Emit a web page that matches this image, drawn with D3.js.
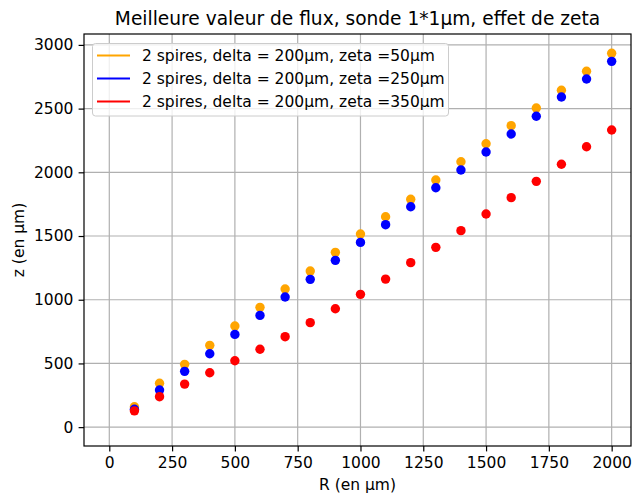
<!DOCTYPE html>
<html><head><meta charset="utf-8">
<script src="https://cdn.jsdelivr.net/npm/d3@7"></script>
<style>body{margin:0;background:#fff}svg{display:block;font-family:"DejaVu Sans",sans-serif}</style>
</head><body><svg id="c" width="632" height="497"></svg>
<script>
const R = [100,200,300,400,500,600,700,800,900,1000,1100,1200,1300,1400,1500,1600,1700,1800,1900,2000];
const zeta50  = [160,344,493,642,794,940,1084,1225,1372,1516,1651,1788,1940,2083,2224,2366,2505,2644,2793,2934];
const zeta250 = [140,291,438,576,728,877,1021,1160,1309,1450,1589,1730,1879,2018,2159,2301,2440,2591,2732,2871];
const zeta350 = [128,239,338,427,521,611,710,820,929,1042,1162,1291,1411,1542,1673,1801,1929,2063,2201,2332];
const seriesNames = ["2 spires, delta = 200µm, zeta =50µm","2 spires, delta = 200µm, zeta =250µm","2 spires, delta = 200µm, zeta =350µm"];
const seriesColors = ["orange","blue","red"];
const xTicks = [0,250,500,750,1000,1250,1500,1750,2000];
const yTicks = [0,500,1000,1500,2000,2500,3000];
const title = "Meilleure valeur de flux, sonde 1*1µm, effet de zeta";
const xLabel = "R (en µm)", yLabel = "z (en µm)";

const series = [zeta50, zeta250, zeta350];
const svg = d3.select("#c");
const L=84, Rr=631, T=34, B=446;
const FS = "15.5px";
const x = d3.scaleLinear().domain([-100.7, 2077]).range([L, Rr]);
const y = d3.scaleLinear().domain([-148, 3085.5]).range([B, T]);

// grid
const g = svg.append("g");
g.selectAll(".gx").data(xTicks).join("line").attr("x1",d=>x(d)).attr("x2",d=>x(d)).attr("y1",T).attr("y2",B).attr("stroke","#b0b0b0").attr("stroke-width",1.2);
g.selectAll(".gy").data(yTicks).join("line").attr("y1",d=>y(d)).attr("y2",d=>y(d)).attr("x1",L).attr("x2",Rr).attr("stroke","#b0b0b0").attr("stroke-width",1.2);

// points
series.forEach((s,i)=>{
  svg.append("g").selectAll("circle").data(R.map((r,j)=>[r,s[j]])).join("circle")
    .attr("cx",d=>x(d[0])).attr("cy",d=>y(d[1])).attr("r",4.7).attr("fill",seriesColors[i]);
});

// axes
const xa = svg.append("g").attr("transform",`translate(0,${B})`).call(d3.axisBottom(x).tickValues(xTicks).tickSize(5.4).tickPadding(5.2).tickFormat(d3.format("d")));
const ya = svg.append("g").attr("transform",`translate(${L},0)`).call(d3.axisLeft(y).tickValues(yTicks).tickSize(5.4).tickPadding(5.2).tickFormat(d3.format("d")));
[xa,ya].forEach(a=>{a.select(".domain").remove();a.selectAll("text").attr("font-size",FS).attr("font-family","DejaVu Sans").attr("fill","#000");a.selectAll("line").attr("stroke","#000").attr("stroke-width",1.2);});
svg.append("rect").attr("x",L).attr("y",T).attr("width",Rr-L).attr("height",B-T).attr("fill","none").attr("stroke","#000").attr("stroke-width",1.2);

// labels
svg.append("text").attr("x",(L+Rr)/2).attr("y",25).attr("text-anchor","middle").attr("font-size","18.6px").text(title);
svg.append("text").attr("x",(L+Rr)/2).attr("y",490).attr("text-anchor","middle").attr("font-size",FS).text(xLabel);
svg.append("text").attr("transform",`translate(24,${(T+B)/2}) rotate(-90)`).attr("text-anchor","middle").attr("font-size",FS).text(yLabel);

// legend
const lg = svg.append("g");
lg.append("rect").attr("x",92.5).attr("y",43.5).attr("width",356).attr("height",72.5).attr("rx",3).attr("fill","#fff").attr("fill-opacity",0.8).attr("stroke","#cccccc").attr("stroke-width",1);
seriesNames.forEach((n,i)=>{
  const yy = 55.5 + i*23;
  lg.append("line").attr("x1",97).attr("x2",130).attr("y1",yy).attr("y2",yy).attr("stroke",seriesColors[i]).attr("stroke-width",2.1);
  lg.append("text").attr("x",142).attr("y",yy+5.5).attr("font-size",FS).text(n);
});
</script></body></html>
